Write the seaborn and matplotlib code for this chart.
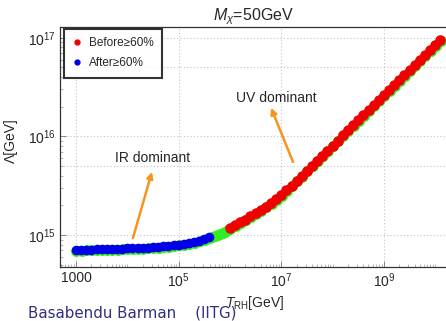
import numpy as np
import pandas as pd
import seaborn as sns
import matplotlib.pyplot as plt
import matplotlib.ticker as mticker
from matplotlib.transforms import ScaledTranslation
from matplotlib.lines import Line2D

sns.set_style('white')
plt.rcParams['font.family'] = ['Liberation Sans', 'DejaVu Sans']
plt.rcParams['mathtext.fontset'] = 'custom'
plt.rcParams['mathtext.rm'] = 'Liberation Sans'
plt.rcParams['mathtext.it'] = 'Liberation Sans:italic'

# log10 values
blue_logT = [3.0, 3.1, 3.2, 3.3, 3.4, 3.5, 3.6, 3.7, 3.8, 3.9, 4.0, 4.1, 4.2, 4.3,
             4.4, 4.5, 4.6, 4.7, 4.8, 4.9, 5.0, 5.1, 5.2, 5.3, 5.4, 5.5, 5.6]
blue_logL = [14.850, 14.851, 14.852, 14.853, 14.854, 14.855, 14.857, 14.858, 14.860,
             14.862, 14.864, 14.866, 14.868, 14.870, 14.873, 14.876, 14.880, 14.884,
             14.889, 14.895, 14.902, 14.910, 14.919, 14.930, 14.943, 14.958, 14.975]

mid_logT = [5.65, 5.7, 5.75, 5.8, 5.85, 5.9, 5.95]
mid_logL = [14.985, 14.995, 15.006, 15.018, 15.030, 15.043, 15.056]

red_logT = [6.0, 6.1, 6.2, 6.3, 6.4, 6.5, 6.6, 6.7, 6.8, 6.9, 7.0, 7.1, 7.2, 7.3,
            7.4, 7.5, 7.6, 7.7, 7.8, 7.9, 8.0, 8.1, 8.2, 8.3, 8.4, 8.5, 8.6, 8.7,
            8.8, 8.9, 9.0, 9.1, 9.2, 9.3, 9.4, 9.5, 9.6, 9.7, 9.8, 9.9, 10.0, 10.1]
red_logL = [15.070, 15.098, 15.127, 15.157, 15.188, 15.220, 15.253, 15.287, 15.323,
            15.362, 15.405, 15.452, 15.501, 15.551, 15.601, 15.652, 15.703, 15.754,
            15.805, 15.856, 15.907, 15.958, 16.009, 16.060, 16.111, 16.162, 16.213,
            16.264, 16.315, 16.366, 16.417, 16.468, 16.519, 16.570, 16.621, 16.672,
            16.723, 16.774, 16.825, 16.876, 16.927, 16.978]

xtick_vals = [1e3, 1e5, 1e7, 1e9]
xtick_labels = ['1000', r'$10^{5}$', r'$10^{7}$', r'$10^{9}$']
ytick_vals = [1e15, 1e16, 1e17]
ytick_labels = [r'$10^{15}$', r'$10^{16}$', r'$10^{17}$']
ygrid_vals = [1e15, 5e15, 1e16, 5e16, 1e17]

blue = pd.DataFrame({'T': 10 ** np.array(blue_logT), 'L': 10 ** np.array(blue_logL)})
red = pd.DataFrame({'T': 10 ** np.array(red_logT), 'L': 10 ** np.array(red_logL)})
green = pd.DataFrame({'T': 10 ** np.array(blue_logT + mid_logT + red_logT),
                      'L': 10 ** np.array(blue_logL + mid_logL + red_logL)})

fig = plt.figure(figsize=(4.46, 3.21), dpi=100)
ax = fig.add_axes([0.1345, 0.168, 0.8655, 0.748])
ax.set_xscale('log')
ax.set_yscale('log')
ax.grid(False)

#dotted grid only at the labelled decades (and the 5x lines on y)
for v in xtick_vals:
    ax.axvline(v, color='#c4c4c4', lw=0.8, ls=(0, (1, 2)), zorder=0)
for v in ygrid_vals:
    ax.axhline(v, color='#c4c4c4', lw=0.8, ls=(0, (1, 2)), zorder=0)

sns.scatterplot(data=green, x='T', y='L', color='#33ee22', s=62, linewidth=0, ax=ax)
ax.collections[-1].set_offset_transform(ax.transData + ScaledTranslation(0.005, -0.008, fig.dpi_scale_trans))
sns.scatterplot(data=blue, x='T', y='L', color='#0000e6', s=48, linewidth=0, ax=ax)
sns.scatterplot(data=red, x='T', y='L', color='#f00000', s=58, linewidth=0, ax=ax)

ax.set_xlim(10 ** 2.688, 10 ** 10.21)
ax.set_ylim(10 ** 14.675, 10 ** 17.109)
ax.set_xlabel('')
ax.set_ylabel('')

ax.xaxis.set_major_locator(mticker.FixedLocator(xtick_vals))
ax.xaxis.set_major_formatter(mticker.FixedFormatter(xtick_labels))
ax.xaxis.set_minor_locator(mticker.LogLocator(base=10, subs=np.arange(1, 10), numticks=100))
ax.xaxis.set_minor_formatter(mticker.NullFormatter())
ax.yaxis.set_major_locator(mticker.FixedLocator(ytick_vals))
ax.yaxis.set_major_formatter(mticker.FixedFormatter(ytick_labels))
ax.yaxis.set_minor_locator(mticker.LogLocator(base=10, subs=np.arange(1, 10), numticks=100))
ax.yaxis.set_minor_formatter(mticker.NullFormatter())
ax.tick_params(which='major', direction='in', length=4, width=0.6, color='#777777',
               labelsize=10, pad=3, bottom=True, left=True)
ax.tick_params(which='minor', direction='in', length=2, width=0.5, color='#999999',
               bottom=True, left=True)

for side in ['left', 'top', 'bottom']:
    ax.spines[side].set_color('#333333')
    ax.spines[side].set_linewidth(0.9)
ax.spines['right'].set_visible(False)

ax.set_title(r'$M_\chi$=50GeV', fontsize=11.5, pad=4)

arrow = dict(arrowstyle='-|>', color='#f7941d', lw=1.8, mutation_scale=9, shrinkA=0, shrinkB=0)
ax.annotate('', xy=(10 ** 4.48, 10 ** 15.64), xytext=(10 ** 4.11, 10 ** 14.97), arrowprops=arrow)
ax.annotate('', xy=(10 ** 6.80, 10 ** 16.29), xytext=(10 ** 7.23, 10 ** 15.74), arrowprops=arrow)
ax.text(10 ** 4.50, 10 ** 15.78, 'IR dominant', fontsize=10, ha='center', va='center')
ax.text(10 ** 6.90, 10 ** 16.39, 'UV dominant', fontsize=10, ha='center', va='center')

handles = [Line2D([], [], ls='', marker='o', ms=3.5, color='#f00000'),
           Line2D([], [], ls='', marker='o', ms=3.5, color='#0000e6')]
leg = ax.legend(handles, ['Before≥60%', 'After≥60%'], loc='upper left',
                bbox_to_anchor=(0.01, 0.992), fontsize=8.5, frameon=True, fancybox=False,
                borderpad=0.7, labelspacing=0.7, handlelength=0.8, handletextpad=0.6,
                borderaxespad=0)
leg.get_frame().set_edgecolor('black')
leg.get_frame().set_linewidth(1.5)

fig.text(11 / 446, 1 - 141 / 321, 'Λ[GeV]', rotation=90, fontsize=10, ha='center', va='center')
fig.text(255 / 446, 1 - 303 / 321, r'$T_{\rm RH}$[GeV]', fontsize=10, ha='center', va='center')
fig.text(28 / 446, 1 - 313 / 321, 'Basabendu Barman    (IITG)', fontsize=10.8,
         color='#2e3080', family=['DejaVu Sans'], ha='left', va='center')

fig.savefig('out.png', dpi=100)
